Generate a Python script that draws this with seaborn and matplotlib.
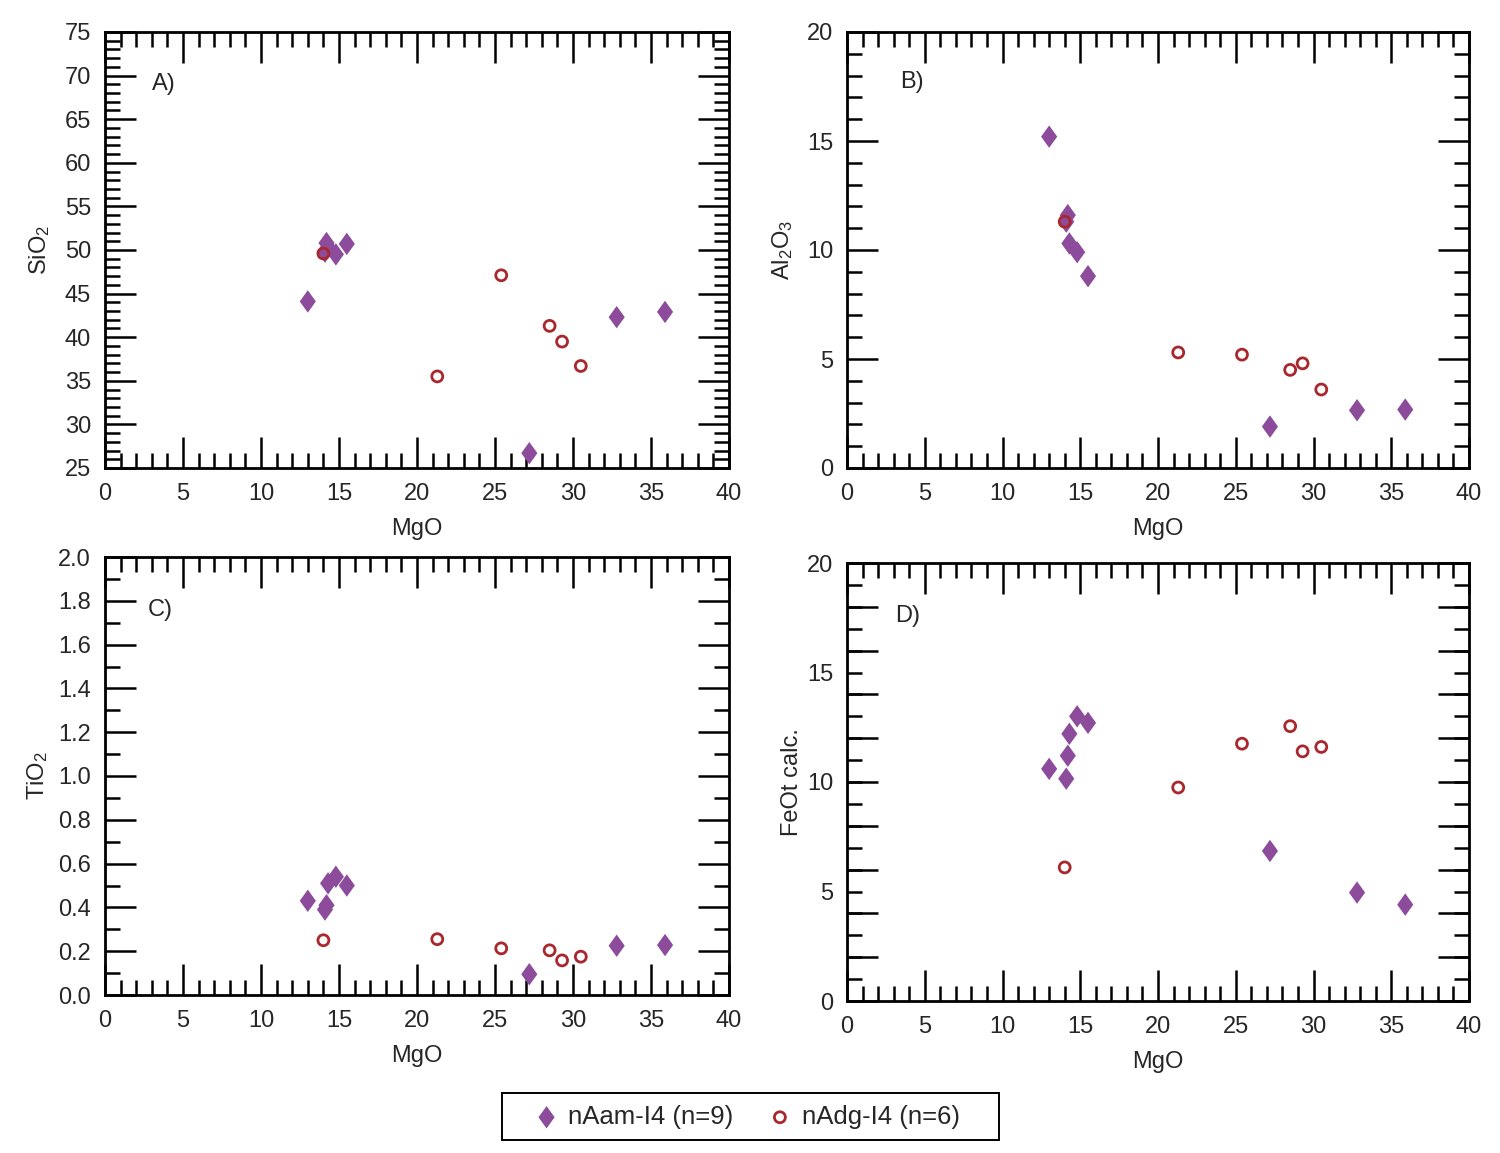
import numpy as np
import pandas as pd
import matplotlib
matplotlib.use("Agg")
import matplotlib.pyplot as plt
from matplotlib.ticker import MultipleLocator, FuncFormatter
from matplotlib.patches import Rectangle
import seaborn as sns

# amphibole (nAam-I4) and diopside-group (nAdg-I4) analyses
mgo_am = [13.0, 14.1, 14.2, 14.3, 14.8, 15.5, 27.2, 32.8, 35.9]
sio2_am = [44.1, 49.8, 50.8, 50.3, 49.5, 50.7, 26.7, 42.3, 42.9]
al2o3_am = [15.2, 11.3, 11.6, 10.3, 9.9, 8.8, 1.9, 2.65, 2.68]
tio2_am = [0.43, 0.39, 0.41, 0.51, 0.54, 0.50, 0.095, 0.225, 0.228]
feot_am = [10.6, 10.15, 11.2, 12.2, 13.0, 12.7, 6.85, 4.95, 4.4]

mgo_dg = [14.0, 21.3, 25.4, 28.5, 29.3, 30.5]
sio2_dg = [49.6, 35.5, 47.1, 41.3, 39.5, 36.7]
al2o3_dg = [11.3, 5.3, 5.2, 4.5, 4.8, 3.6]
tio2_dg = [0.25, 0.255, 0.213, 0.204, 0.158, 0.175]
feot_dg = [6.1, 9.75, 11.75, 12.55, 11.4, 11.6]

label_am = "nAam-I4 (n=9)"
label_dg = "nAdg-I4 (n=6)"

am = pd.DataFrame({"MgO": mgo_am, "SiO2": sio2_am, "Al2O3": al2o3_am,
                   "TiO2": tio2_am, "FeOt": feot_am})
dg = pd.DataFrame({"MgO": mgo_dg, "SiO2": sio2_dg, "Al2O3": al2o3_dg,
                   "TiO2": tio2_dg, "FeOt": feot_dg})

sns.set_style("white")
plt.rcParams["font.family"] = ["Liberation Sans", "DejaVu Sans"]
plt.rcParams["mathtext.default"] = "regular"
FS = 17
plt.rcParams["font.size"] = FS

purple = "#8C4B9B"
red = "#A8282D"
diamond = [(0, 1), (0.72, 0), (0, -1), (-0.72, 0), (0, 1)]

fig = plt.figure(figsize=(15, 11.53), dpi=100)
W, H = 1500, 1153

def axes_px(l, r, t, b):
    return fig.add_axes([l / W, 1 - b / H, (r - l) / W, (b - t) / H])

panels = [
    # col, ylabel, ylim, major-step, minor-step, box px, tag, tag pos, ylabel x
    ("SiO2", "SiO$_2$", (25, 75), 5, 1, (105, 729, 32, 468), "A)", (0.075, 0.88), -0.085),
    ("Al2O3", "Al$_2$O$_3$", (0, 20), 5, 1, (847, 1469, 32, 468), "B)", (0.085, 0.885), -0.084),
    ("TiO2", "TiO$_2$", (0, 2.0), 0.2, 0.1, (105, 729, 557, 995), "C)", (0.068, 0.879), -0.088),
    ("FeOt", "FeOt calc.", (0, 20), 2, 1, (847, 1469, 563, 1001), "D)", (0.077, 0.879), -0.071),
]

for col, ylab, ylim, mstep, nstep, box, tag, tagpos, ylx in panels:
    ax = axes_px(*box)
    sns.scatterplot(data=am, x="MgO", y=col, ax=ax, marker=diamond, s=260,
                    color=purple, edgecolor="none", linewidth=0, label=label_am,
                    legend=False, zorder=3)
    sns.scatterplot(data=dg, x="MgO", y=col, ax=ax, marker="o", s=62,
                    facecolor="none", edgecolor=red, linewidth=2.0, label=label_dg,
                    legend=False, zorder=4)
    ax.set_xlim(0, 40)
    ax.set_ylim(*ylim)

    ax.xaxis.set_major_locator(MultipleLocator(5))
    ax.xaxis.set_minor_locator(MultipleLocator(1))
    if col == "FeOt":
        # labels every 5, long marks at even values, short marks at odd ones
        ax.yaxis.set_major_locator(MultipleLocator(1))
        ax.yaxis.set_major_formatter(FuncFormatter(
            lambda v, p: f"{v:.0f}" if abs(v % 5) < 1e-6 else ""))
        ax.yaxis.set_minor_locator(MultipleLocator(2))
        ax.yaxis.remove_overlapping_locs = False
        ax.tick_params(axis="y", which="major", length=11)
        ax.tick_params(axis="y", which="minor", length=22)
    else:
        ax.yaxis.set_major_locator(MultipleLocator(mstep))
        ax.yaxis.set_minor_locator(MultipleLocator(nstep))
        if col == "TiO2":
            ax.yaxis.set_major_formatter(FuncFormatter(lambda v, p: f"{v:.1f}"))
        ax.tick_params(axis="y", which="major", length=22)
        ax.tick_params(axis="y", which="minor", length=11)

    ax.tick_params(axis="x", which="major", length=22)
    ax.tick_params(axis="x", which="minor", length=11)
    ax.tick_params(which="both", direction="in", top=True, right=True,
                   bottom=True, left=True, width=1.8, color="black",
                   labelsize=FS)
    ax.tick_params(axis="x", which="major", pad=11)
    ax.tick_params(axis="y", which="major", pad=10)
    for sp in ax.spines.values():
        sp.set_linewidth(2.0)
        sp.set_color("black")

    ax.set_xlabel("MgO", fontsize=FS)
    ax.set_ylabel(ylab, fontsize=FS)
    ax.xaxis.set_label_coords(0.5, -0.115)
    ax.yaxis.set_label_coords(ylx, 0.5)
    ax.text(tagpos[0], tagpos[1], tag, transform=ax.transAxes,
            fontsize=FS, va="center", ha="left")

    if col == "SiO2":
        handles = ax.collections[:2]

# legend box drawn as a plain frame, legend content placed inside it
fig.patches.append(Rectangle((502 / W, 1 - 1140 / H), 497 / W, 47 / H,
                             transform=fig.transFigure, fill=False,
                             edgecolor="black", linewidth=1.4))
leg = fig.legend(handles, [label_am, label_dg], loc="center",
                 bbox_to_anchor=(748 / W, 1 - 1117 / H), ncol=2, frameon=False,
                 fontsize=18.5, handletextpad=0.45, columnspacing=1.4,
                 handlelength=0.8, borderpad=0.3, borderaxespad=0,
                 scatterpoints=1)

fig.savefig("out.png", dpi=100, facecolor="white")
